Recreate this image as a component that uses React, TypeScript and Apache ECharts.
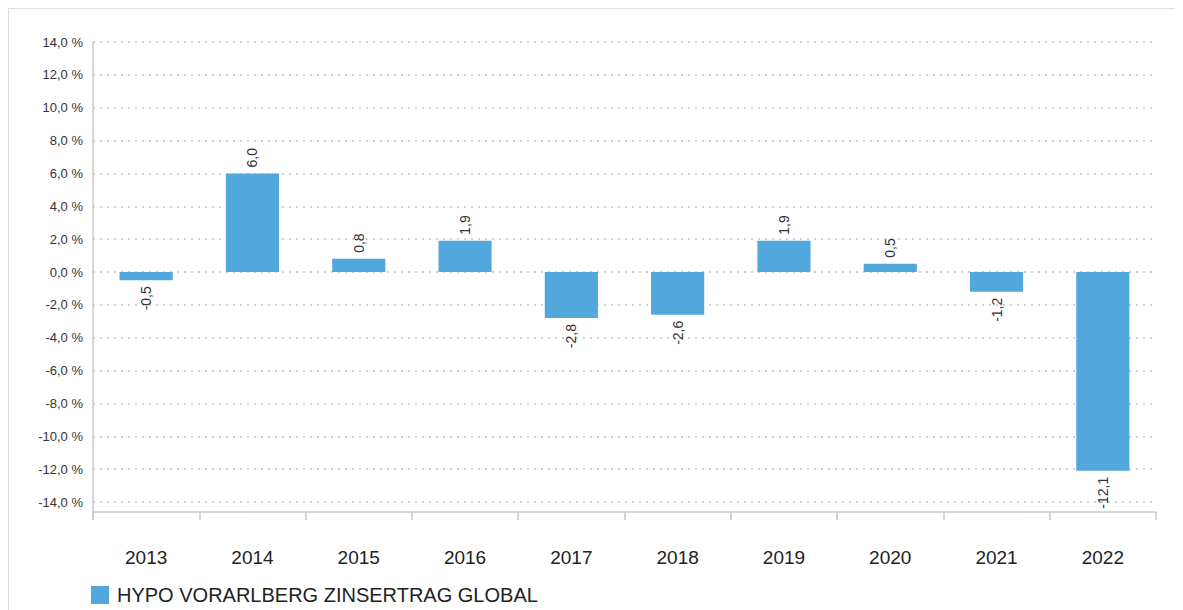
import React, { useEffect, useRef } from "react";
import * as echarts from "echarts";

const categories = ["2013", "2014", "2015", "2016", "2017", "2018", "2019", "2020", "2021", "2022"];
const values = [-0.5, 6.0, 0.8, 1.9, -2.8, -2.6, 1.9, 0.5, -1.2, -12.1];
const seriesName = "HYPO VORARLBERG ZINSERTRAG GLOBAL";

const fmt = (v: number) => v.toFixed(1).replace(".", ",");

export default function App() {
  const ref = useRef<HTMLDivElement>(null);
  useEffect(() => {
    if (!ref.current) return;
    const chart = echarts.init(ref.current, undefined, { renderer: "svg" });
    const font = "Liberation Sans, Arial, sans-serif";
    chart.setOption({
      animation: false,
      textStyle: { fontFamily: font },
      grid: { left: 84, right: 27, top: 33, bottom: 108, containLabel: false },
      legend: {
        data: [seriesName],
        left: 77,
        top: 571,
        itemWidth: 18,
        itemHeight: 18,
        icon: "rect",
        textStyle: { fontSize: 20, color: "#222", fontFamily: font, padding: [0, 0, 0, 3] },
      },
      xAxis: {
        type: "category",
        data: categories,
        offset: 10,
        axisLine: { onZero: false, lineStyle: { color: "#c8c8c8", width: 1.5 } },
        axisTick: { show: true, alignWithLabel: false, length: 8, lineStyle: { color: "#c8c8c8", width: 1.5 } },
        axisLabel: { fontSize: 19, color: "#222", margin: 36, fontFamily: font },
        splitLine: { show: false },
      },
      yAxis: {
        type: "value",
        min: -14,
        max: 14,
        interval: 2,
        axisLine: { show: true, lineStyle: { color: "#c8c8c8", width: 1.5 } },
        axisTick: { show: false },
        axisLabel: { fontSize: 13, color: "#333", margin: 10, formatter: (v: number) => fmt(v) + " %", fontFamily: font },
        splitLine: { lineStyle: { color: "#c4c4c4", type: [2, 5], width: 1.5 } },
      },
      graphic: [
        { type: "line", shape: { x1: 84, y1: 493, x2: 84, y2: 511 }, style: { stroke: "#c8c8c8", lineWidth: 1.5 } },
      ],
      series: [
        {
          name: seriesName,
          type: "bar",
          barWidth: "50%",
          itemStyle: { color: "#52A7DD" },
          data: values.map((v) => ({
            value: v,
            label: {
              show: true,
              position: v >= 0 ? "top" : "bottom",
              rotate: 90,
              align: v >= 0 ? "left" : "right",
              verticalAlign: "middle",
              distance: 6,
              fontSize: 14,
              color: "#333",
              fontFamily: font,
              formatter: () => fmt(v),
            },
          })),
        },
      ],
    });
    return () => chart.dispose();
  }, []);
  return (
    <div style={{ width: 1174, height: 601, borderTop: "1px solid #ddd", borderLeft: "1px solid #ddd" }}>
      <div ref={ref} style={{ width: 1174, height: 601 }} />
    </div>
  );
}
